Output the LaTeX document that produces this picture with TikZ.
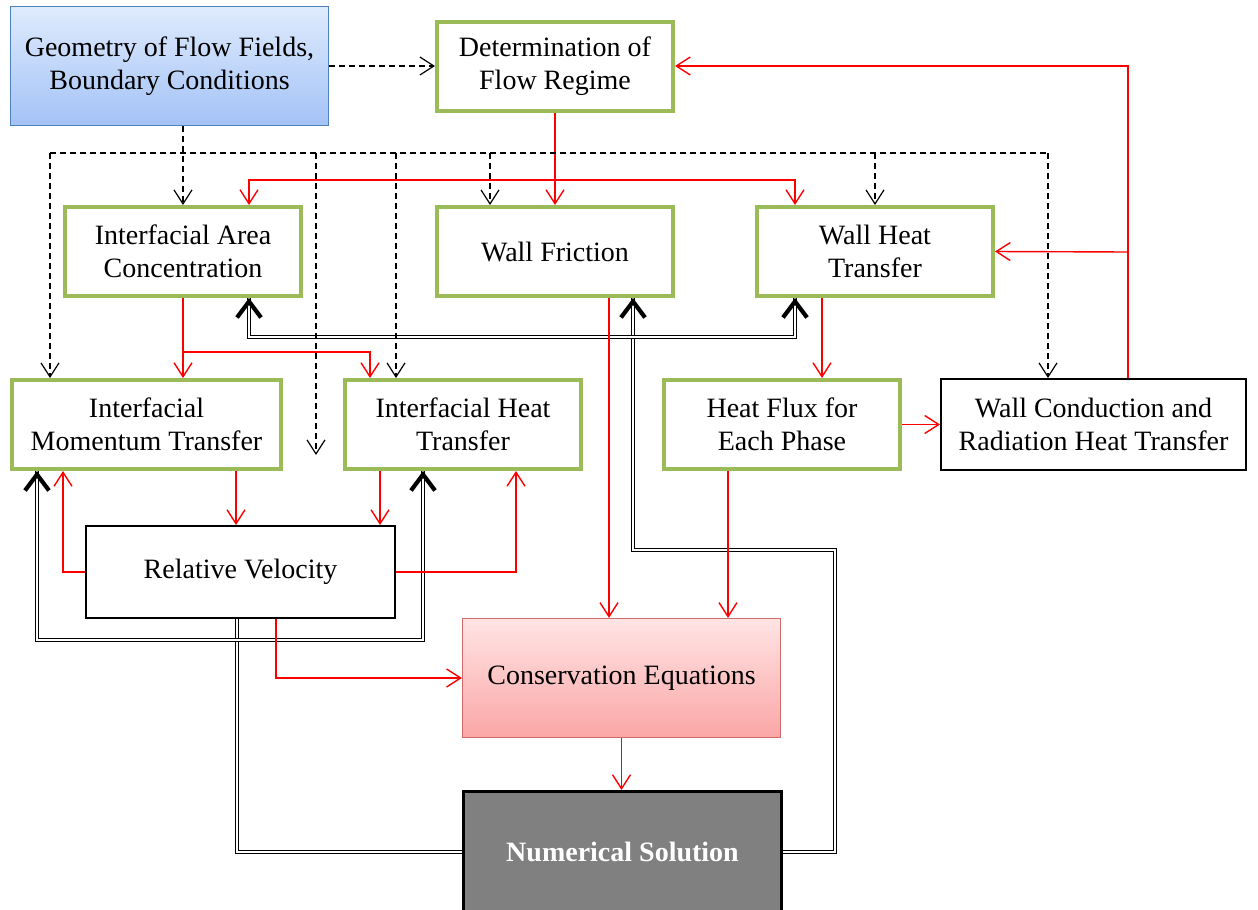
\documentclass[tikz,border=0pt]{standalone}
\usepackage{fontspec}
\setmainfont{Liberation Serif}
\usepackage{xcolor}
\usetikzlibrary{arrows.meta}
\definecolor{bxgreen}{HTML}{9BBB59}
\definecolor{bxblue}{HTML}{4F81BD}
\definecolor{bluetop}{HTML}{DFEBFD}
\definecolor{bluebot}{HTML}{A3C2F6}
\definecolor{pinktop}{HTML}{FFE4E4}
\definecolor{pinkbot}{HTML}{FBA6A6}
\definecolor{pinkline}{HTML}{D36A6A}
\definecolor{nsgray}{HTML}{808080}

\begin{document}
\begin{tikzpicture}[x=0.5pt, y=-0.5pt,
    font=\fontsize{14}{16.5}\selectfont,
    box/.style={rectangle, align=center, inner sep=0pt},
    greenbox/.style={box, draw=bxgreen, line width=2pt, fill=white,
                     minimum width=118pt, minimum height=44.5pt},
    blackbox/.style={box, draw=black, line width=1pt, fill=white,
                     minimum height=45.5pt},
    redarr/.style={draw=red, line width=0.7pt,
                   >={Straight Barb[length=7pt,width=9pt]}, ->},
    dashln/.style={draw=black, line width=0.6pt, dash pattern=on 3pt off 2pt},
    dasharr/.style={dashln, >={Straight Barb[length=7pt,width=9pt]}, ->},
    dblline/.style={draw=black, double, line width=0.7pt, double distance=0.9pt},
    bigtip/.style={draw=black, line width=2.1pt,
                   -{Straight Barb[length=8pt,width=12pt]}}]
  \useasboundingbox (0,0) rectangle (1258,910);

  \node[box, draw=bxblue, line width=0.6pt, top color=bluetop, bottom color=bluebot,
        minimum width=159pt, minimum height=59.5pt] (geo) at (169.5,66)
        {Geometry of Flow Fields,\\Boundary Conditions};
  \node[greenbox] (regime) at (555,66) {Determination of\\Flow Regime};
  \node[greenbox] (iac) at (183,251.5) {Interfacial Area\\Concentration};
  \node[greenbox] (wf) at (555,251.5) {Wall Friction};
  \node[greenbox] (wht) at (875,251.5) {Wall Heat\\Transfer};
  \node[greenbox, minimum width=134.5pt] (imt) at (146.5,424.5) {Interfacial\\Momentum Transfer};
  \node[greenbox] (iht) at (463,424.5) {Interfacial Heat\\Transfer};
  \node[greenbox] (hf) at (782,424.5) {Heat Flux for\\Each Phase};
  \node[blackbox, minimum width=152.5pt] (wc) at (1093.5,424.5)
        {Wall Conduction and\\Radiation Heat Transfer};
  \node[blackbox, minimum width=154.5pt, minimum height=46pt] (rv) at (240.5,572)
        {Relative Velocity};
  \node[box, draw=pinkline, line width=0.6pt, top color=pinktop, bottom color=pinkbot,
        minimum width=159pt, minimum height=59.5pt] (ce) at (621.5,678)
        {Conservation Equations};
  \node[box, draw=black, line width=1.7pt, fill=nsgray, text=white,
        font=\fontsize{14}{16.5}\selectfont\bfseries,
        minimum width=158.8pt, minimum height=60.3pt] (ns) at (622.5,852)
        {Numerical Solution};

  % feedback from the solver
  \coordinate (nsloop) at (835,550);
  \draw[dblline] (ns.west) -| ([xshift=-1.75pt]rv.south);
  \draw[dblline] ([xshift=-54.75pt]imt.south) -- ++(0pt,-84.5pt)
        -| ([xshift=-20pt]iht.south);
  \draw[dblline] (ns.east) -| (nsloop) -| ([xshift=39pt]wf.south);
  \draw[dblline] ([xshift=33pt]iac.south) -- ++(0pt,-19.5pt)
        -| ([xshift=-40pt]wht.south);
  \draw[bigtip] ([xshift=-54.75pt,yshift=-2pt]imt.south) -- ([xshift=-54.75pt]imt.south);
  \draw[bigtip] ([xshift=-20pt,yshift=-2pt]iht.south) -- ([xshift=-20pt]iht.south);
  \draw[bigtip] ([xshift=39pt,yshift=-2pt]wf.south) -- ([xshift=39pt]wf.south);
  \draw[bigtip] ([xshift=33pt,yshift=-2pt]iac.south) -- ([xshift=33pt]iac.south);
  \draw[bigtip] ([xshift=-40pt,yshift=-2pt]wht.south) -- ([xshift=-40pt]wht.south);

  % red links
  \coordinate (rj) at (555,180);
  \coordinate (wj) at (1128,252);
  \coordinate (ij) at (183,352);
  \draw[redarr] (regime) -- (wf);
  \draw[redarr] (rj) -| ([xshift=33pt]iac.north);
  \draw[redarr] (rj) -| ([xshift=-40pt]wht.north);
  \draw[redarr] ([xshift=17.25pt]wc.north) |- (regime.east);
  \draw[redarr] (wj) -- (wht.east);
  \draw[redarr] (iac.south) -- (iac.south |- imt.north);
  \draw[redarr] (ij) -| ([xshift=-46.5pt]iht.north);
  \draw[redarr] ([xshift=27pt]wf.south) -- ([xshift=-6.25pt]ce.north);
  \draw[redarr] ([xshift=-26.5pt]wht.south) -- ([xshift=20pt]hf.north);
  \draw[redarr] (hf) -- (wc);
  \draw[redarr] ([xshift=-27pt]hf.south) -- ([xshift=53.25pt]ce.north);
  \draw[redarr] ([xshift=44.75pt]imt.south) -- ([xshift=-2.25pt]rv.north);
  \draw[redarr] ([xshift=-41.5pt]iht.south) -- ([xshift=69.75pt]rv.north);
  \draw[redarr] (rv.west) -| ([xshift=-41.75pt]imt.south);
  \draw[redarr] (rv.east) -| ([xshift=26.5pt]iht.south);
  \draw[redarr] ([xshift=17.75pt]rv.south) |- (ce.west);
  \draw[redarr] (ce.south) -- (ce.south |- ns.north);

  % dashed input lines
  \coordinate (busA) at (50,153);
  \coordinate (busB) at (316,153);
  \coordinate (busC) at (396,153);
  \coordinate (busD) at (490,153);
  \coordinate (busE) at (875,153);
  \coordinate (busF) at (1048,153);
  \draw[dasharr] (geo) -- (regime);
  \draw[dasharr] (geo.south -| iac.north) -- (iac.north);
  \draw[dashln] (busA) -- (busF);
  \draw[dasharr] (busA) -- (busA |- imt.north);
  \draw[dasharr] (busB) -- ++(0pt,-151pt);
  \draw[dasharr] (busC) -- (busC |- iht.north);
  \draw[dasharr] (busD) -- (busD |- wf.north);
  \draw[dasharr] (busE) -- (busE |- wht.north);
  \draw[dasharr] (busF) -- (busF |- wc.north);
\end{tikzpicture}
\end{document}
